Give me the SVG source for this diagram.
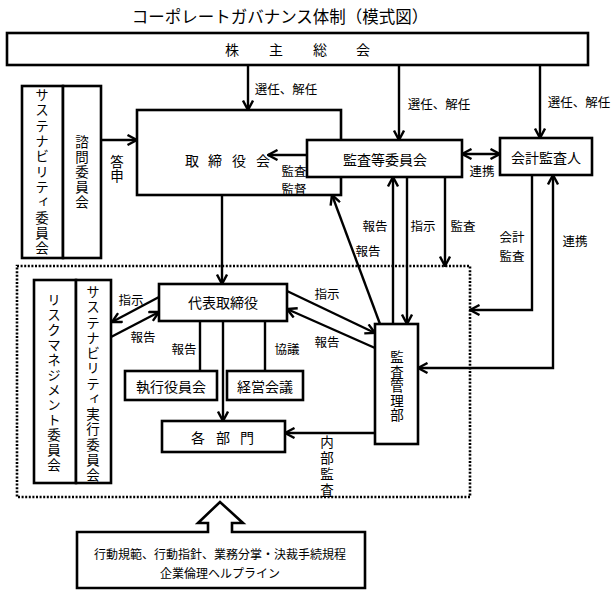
<svg xmlns="http://www.w3.org/2000/svg" width="613" height="596" viewBox="0 0 613 596">
<style>
text{font-family:"Noto Sans CJK JP","Noto Sans",sans-serif;fill:#000;dominant-baseline:central}
.t{font-size:16.5px;text-anchor:middle}
.b{font-size:14px;text-anchor:middle}
.l{font-size:12.5px;text-anchor:middle}
.v{font-size:13.5px;text-anchor:middle;writing-mode:vertical-rl}
.box{fill:#fff;stroke:#000;stroke-width:2.6}
.ln{fill:none;stroke:#000;stroke-width:2.4}
.ar{fill:none;stroke:#000;stroke-width:2.4;marker-end:url(#ah)}
.ar2{fill:none;stroke:#000;stroke-width:2.4;marker-end:url(#ah);marker-start:url(#ah)}
.dot{fill:none;stroke:#000;stroke-width:2.6;stroke-dasharray:2 1.6}
</style>
<defs>
<marker id="ah" viewBox="0 0 12 12" refX="11" refY="6" markerWidth="12" markerHeight="12" markerUnits="userSpaceOnUse" orient="auto-start-reverse">
<path d="M1.5,1 L11,6 L1.5,11" fill="none" stroke="#000" stroke-width="2.4"/>
</marker>
</defs>

<text class="t" x="280" y="16">コーポレートガバナンス体制（模式図）</text>

<g id="shareholders">
<rect class="box" x="7" y="33" width="581" height="32"/>
<text class="b"><tspan x="232" y="49">株</tspan><tspan x="276" y="49">主</tspan><tspan x="320" y="49">総</tspan><tspan x="363" y="49">会</tspan></text>
</g>

<g id="sustainability-committee">
<rect class="box" x="22" y="86" width="41" height="172"/>
<text class="v" x="42" y="172.4" style="letter-spacing:1.8px">サステナビリティ委員会</text>
</g>

<g id="advisory-committee">
<rect class="box" x="63" y="86" width="38" height="172"/>
<text class="v" x="82" y="172.75" style="letter-spacing:1.5px">諮問委員会</text>
</g>

<g id="board">
<rect class="box" x="137" y="110" width="204" height="85"/>
<text class="b"><tspan x="192" y="160">取</tspan><tspan x="215" y="160">締</tspan><tspan x="239" y="160">役</tspan><tspan x="263" y="160">会</tspan></text>
</g>

<g id="audit-committee">
<rect class="box" x="307" y="140" width="155" height="37"/>
<text class="b" x="385" y="159">監査等委員会</text>
</g>

<g id="accounting-auditor">
<rect class="box" x="500" y="138" width="92" height="37"/>
<text class="b" x="546" y="157">会計監査人</text>
</g>

<g id="internal-control-area">
<rect class="dot" x="17" y="266" width="453" height="231"/>
</g>

<g id="risk-committee">
<rect class="box" x="34" y="280" width="42" height="203"/>
<text class="v" x="54" y="383.25" style="letter-spacing:1.5px">リスクマネジメント委員会</text>
</g>

<g id="sustainability-exec-committee">
<rect class="box" x="76" y="280" width="35" height="203"/>
<text class="v" x="93" y="384.4" style="letter-spacing:1.75px">サステナビリティ実行委員会</text>
</g>

<g id="representative-director">
<rect class="box" x="159" y="284" width="128" height="37"/>
<text class="b" x="223" y="302">代表取締役</text>
</g>

<g id="executive-officers">
<rect class="box" x="125" y="371" width="92" height="29"/>
<text class="b" x="171" y="386">執行役員会</text>
</g>

<g id="management-meeting">
<rect class="box" x="227" y="371" width="76" height="29"/>
<text class="b" x="265" y="386">経営会議</text>
</g>

<g id="departments">
<rect class="box" x="162" y="421" width="123" height="31"/>
<text class="b"><tspan x="198" y="437">各</tspan><tspan x="223" y="437">部</tspan><tspan x="247" y="437">門</tspan></text>
</g>

<g id="audit-management-dept">
<rect class="box" x="375" y="324" width="43" height="120"/>
<text class="v" x="397" y="386.5" style="letter-spacing:1px">監査管理部</text>
</g>

<g id="policies">
<path class="box" d="M77,532 L208,532 L208,523 L198,523 L220,502 L243,523 L232,523 L232,532 L365,532 L365,588 L77,588 Z"/>
<text style="font-size:12px;text-anchor:middle" x="220" y="553">行動規範、行動指針、業務分掌・決裁手続規程</text>
<text style="font-size:12px;text-anchor:middle" x="220" y="572">企業倫理ヘルプライン</text>
</g>

<g id="connectors">
<line class="ar" x1="248" y1="65" x2="248" y2="110"/>
<line class="ar" x1="399" y1="65" x2="399" y2="140"/>
<line class="ar" x1="540" y1="65" x2="540" y2="138"/>
<line class="ar" x1="101" y1="140" x2="137" y2="140"/>
<line class="ar" x1="307" y1="155" x2="268" y2="155"/>
<line class="ar2" x1="462" y1="154" x2="500" y2="154"/>
<polyline class="ar" points="532,175 532,310 470,310"/>
<polyline class="ar2" points="418,368 553,368 553,175"/>
<line class="ar" x1="393" y1="324" x2="393" y2="177"/>
<line class="ar" x1="407" y1="177" x2="407" y2="324"/>
<line class="ar" x1="445" y1="177" x2="445" y2="266"/>
<line class="ar" x1="380" y1="324" x2="332" y2="195"/>
<line class="ar" x1="222" y1="195" x2="222" y2="284"/>
<line class="ar" x1="159" y1="297" x2="112" y2="322"/>
<line class="ar" x1="111" y1="337" x2="159" y2="312"/>
<line class="ln" x1="200" y1="321" x2="200" y2="371"/>
<line class="ln" x1="265" y1="321" x2="265" y2="371"/>
<line class="ar" x1="223" y1="321" x2="223" y2="421"/>
<line class="ar" x1="375" y1="433" x2="285" y2="433"/>
<line class="ar" x1="287" y1="291" x2="375" y2="333"/>
<line class="ar" x1="375" y1="348" x2="287" y2="309"/>
</g>

<g id="labels">
<text class="l" x="286" y="88">選任、解任</text>
<text class="l" x="439" y="103">選任、解任</text>
<text class="l" x="579" y="101">選任、解任</text>
<text class="v" x="117" y="169.25" style="letter-spacing:0.5px">答申</text>
<text class="l"><tspan x="294" y="170">監査</tspan><tspan x="294" y="188">監督</tspan></text>
<text class="l" x="482" y="170">連携</text>
<text class="l"><tspan x="512" y="236">会計</tspan><tspan x="512" y="255">監査</tspan></text>
<text class="l" x="575" y="240">連携</text>
<text class="l" x="375" y="225">報告</text>
<text class="l" x="423" y="225">指示</text>
<text class="l" x="463" y="225">監査</text>
<text class="l" x="368" y="250">報告</text>
<text class="l" x="131" y="299">指示</text>
<text class="l" x="143" y="336">報告</text>
<text class="l" x="184" y="348">報告</text>
<text class="l" x="287" y="348">協議</text>
<text class="l" x="327" y="293">指示</text>
<text class="l" x="327" y="341">報告</text>
<text class="v" x="327" y="467.25" style="letter-spacing:2.5px">内部監査</text>
</g>
</svg>
